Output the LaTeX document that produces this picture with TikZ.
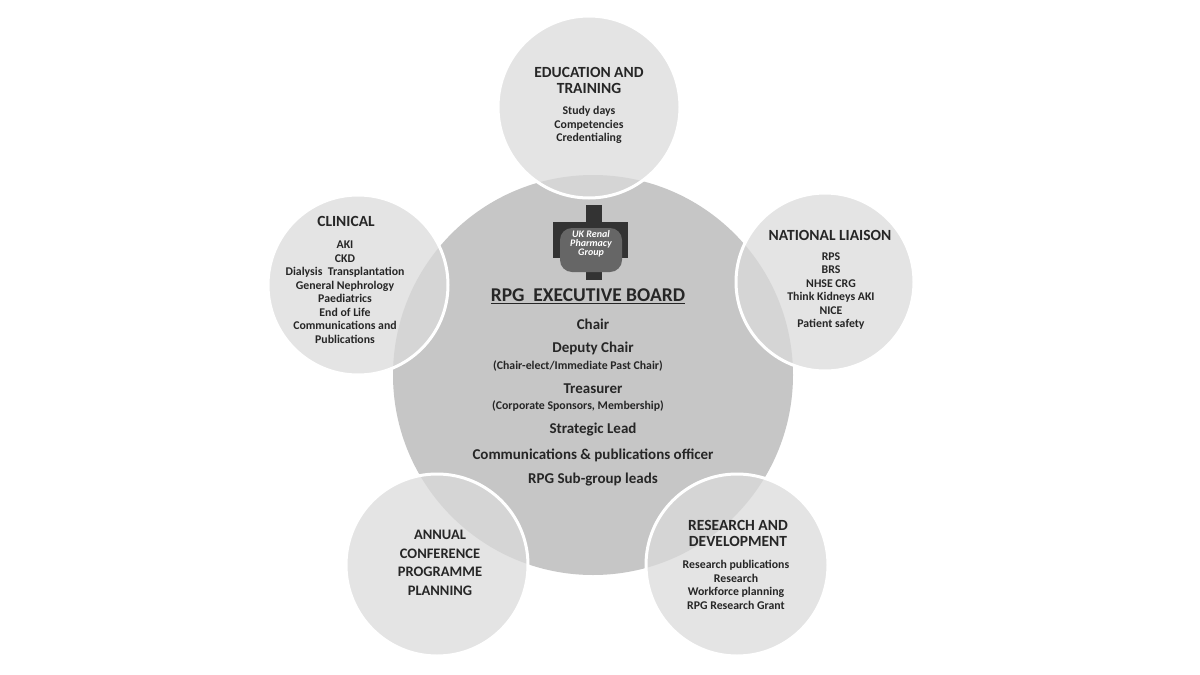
\documentclass[tikz,border=0pt]{standalone}
\usepackage{fontspec}
\setmainfont{Carlito}
\begin{document}
\begin{tikzpicture}[x=1pt,y=-1pt,
  sat/.style={circle,fill=gray!28,fill opacity=0.75,draw=white,line width=3pt,minimum size=#1},
  ttl/.style={font=\bfseries\fontsize{15.5}{16}\selectfont,align=center,text=black!85},
  sm/.style={font=\bfseries\fontsize{11.8}{13.5}\selectfont,align=center,text=black!85},
  md/.style={font=\bfseries\fontsize{15}{16}\selectfont,align=center,text=black!85}]
\useasboundingbox (0,0) rectangle (1200,675);
\fill[white] (0,0) rectangle (1200,675);
\node[circle,fill=gray!45,minimum size=400pt,inner sep=0] (c) at (593,375) {};
\node[sat=182pt] (t) at (589,107) {};
\node[sat=180pt] (l) at (358,285) {};
\node[sat=178pt] (r) at (825,282) {};
\node[sat=182pt] (bl) at (437,565) {};
\node[sat=182pt] (br) at (737,565) {};
% logo
\fill[black!80] (586,205) rectangle (602,280);
\fill[black!80] (553,222) rectangle (628,258);
\fill[black!60,rounded corners=12pt] (560,228) rectangle (622,272);
\node[font=\itshape\bfseries\fontsize{10}{9}\selectfont,text=white,align=center] (logo) at (591,244) {UK Renal\\Pharmacy\\Group};
\node[md,font=\bfseries\fontsize{19.5}{20}\selectfont] (h) at (588,296) {\underline{RPG\ \ EXECUTIVE BOARD}};
\node[md] (a1) at (593,324) {Chair};
\node[md] (a2) at (593,348) {Deputy Chair};
\node[sm] (a3) at (578,366) {(Chair-elect/Immediate Past Chair)};
\node[md] (a4) at (593,389) {Treasurer};
\node[sm] (a5) at (578,406) {(Corporate Sponsors, Membership)};
\node[md] (a6) at (593,430) {Strategic Lead};
\node[md] (a7) at (593,455) {Communications \& publications officer};
\node[md] (a8) at (593,480) {RPG Sub-group leads};
% satellites text
\node[ttl] (tt) at (589,80) {EDUCATION AND\\TRAINING};
\node[sm] (ts) at (589,125) {Study days\\Competencies\\Credentialing};
\node[ttl] (lt) at (346,221) {CLINICAL};
\node[sm] (ls) at (345,292) {AKI\\CKD\\Dialysis\ \ Transplantation\\General Nephrology\\Paediatrics\\End of Life\\Communications and\\Publications};
\node[ttl] (rt) at (830,235) {NATIONAL LIAISON};
\node[sm] (rs) at (831,291) {RPS\\BRS\\NHSE CRG\\Think Kidneys AKI\\NICE\\Patient safety};
\node[ttl,font=\bfseries\fontsize{14.5}{18.5}\selectfont] (blt) at (440,563) {ANNUAL\\CONFERENCE\\PROGRAMME\\PLANNING};
\node[ttl] (brt) at (738,533) {RESEARCH AND\\DEVELOPMENT};
\node[sm] (brs) at (736,585) {Research publications\\Research\\Workforce planning\\RPG Research Grant};
\end{tikzpicture}
\end{document}
